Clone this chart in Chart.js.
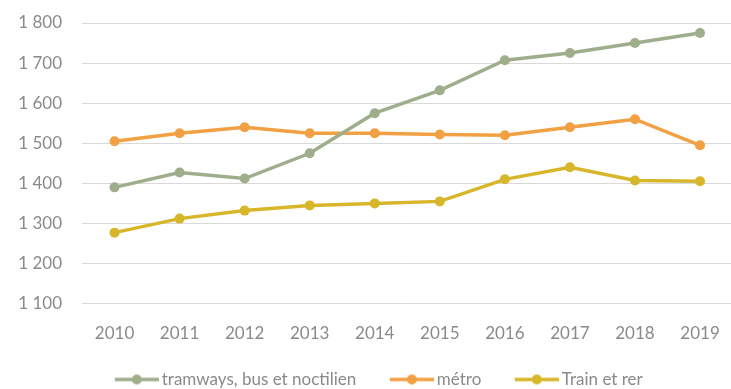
<!DOCTYPE html>
<html>
<head>
<meta charset="utf-8">
<script src="https://cdn.jsdelivr.net/npm/chart.js@4.4.1/dist/chart.umd.min.js"></script>
<style>
  html, body { margin: 0; padding: 0; background: #fff; overflow: hidden; }
  #wrap { width: 740px; height: 389px; position: relative; }
</style>
</head>
<body>
<div id="wrap"><canvas id="chart"></canvas></div>
<script>
const years = ['2010', '2011', '2012', '2013', '2014', '2015', '2016', '2017', '2018', '2019'];
const tramBus = [1390, 1427, 1412, 1475, 1575, 1632, 1707, 1725, 1750, 1775];
const metro = [1505, 1525, 1540, 1525, 1525, 1522, 1520, 1540, 1560, 1495];
const trainRer = [1277, 1312, 1332, 1345, 1350, 1355, 1410, 1440, 1407, 1405];
const seriesNames = ['tramways, bus et noctilien', 'métro', 'Train et rer'];
const seriesColors = ['#9eae8c', '#f2a044', '#d8b62a'];
const yMin = 1100, yMax = 1800, yStep = 100;

const textGrey = '#8a8a8a';
const fontFamily = 'Lato';

// line-with-dot swatch for the legend; the empty strip on the left
// pulls the label text closer to the line
function swatch(color) {
  const c = document.createElement('canvas');
  c.width = 55; c.height = 12;
  const g = c.getContext('2d');
  g.strokeStyle = color;
  g.lineWidth = 3.5;
  g.beginPath(); g.moveTo(11, 6); g.lineTo(55, 6); g.stroke();
  g.fillStyle = color;
  g.beginPath(); g.arc(33, 6, 5, 0, Math.PI * 2); g.fill();
  return c;
}

function makeSet(label, data, color) {
  return {
    label: label,
    data: data,
    borderColor: color,
    backgroundColor: color,
    borderWidth: 3.5,
    pointRadius: 5,
    pointHoverRadius: 5,
    pointBorderWidth: 0,
    pointStyle: 'circle',
    legendStyle: swatch(color),
    tension: 0
  };
}

const sets = [
  makeSet(seriesNames[0], tramBus, seriesColors[0]),
  makeSet(seriesNames[1], metro, seriesColors[1]),
  makeSet(seriesNames[2], trainRer, seriesColors[2])
];

// nudge the legend row sideways
const legendShift = {
  id: 'legendShift',
  afterLayout(chart) {
    chart.legend.left -= 3;
    chart.legend.right -= 3;
  }
};

new Chart(document.getElementById('chart'), {
  type: 'line',
  data: { labels: years, datasets: sets },
  plugins: [legendShift],
  options: {
    responsive: true,
    maintainAspectRatio: false,
    animation: false,
    layout: { padding: { top: 23, left: 18, right: 0, bottom: -9 } },
    plugins: {
      tooltip: { enabled: false },
      legend: {
        position: 'bottom',
        labels: {
          color: textGrey,
          font: { family: fontFamily, size: 17 },
          usePointStyle: true,
          pointStyleWidth: 44,
          padding: 28,
          generateLabels: chart => chart.data.datasets.map((ds, i) => ({
            text: ds.label,
            pointStyle: ds.legendStyle,
            fontColor: textGrey,
            strokeStyle: ds.borderColor,
            fillStyle: ds.borderColor,
            lineWidth: 0,
            datasetIndex: i
          }))
        }
      }
    },
    scales: {
      x: {
        offset: true,
        // labels may sit inside the legend's top padding
        afterFit: scale => { scale.height -= 21; },
        grid: { display: false, drawTicks: false },
        border: { display: false },
        ticks: { color: textGrey, font: { family: fontFamily, size: 17 }, padding: 20 }
      },
      y: {
        min: yMin,
        max: yMax,
        afterFit: scale => {
          scale.width = 64;
          scale.paddingTop = 0;
          scale.paddingBottom = 0;
        },
        grid: { color: '#d9d9d9', lineWidth: 1, drawTicks: false },
        border: { display: false },
        ticks: {
          stepSize: yStep,
          padding: 20,
          color: textGrey,
          font: { family: fontFamily, size: 17 },
          callback: v => String(v).replace(/\B(?=(\d{3})+(?!\d))/g, ' ')
        }
      }
    }
  }
});
</script>
</body>
</html>
